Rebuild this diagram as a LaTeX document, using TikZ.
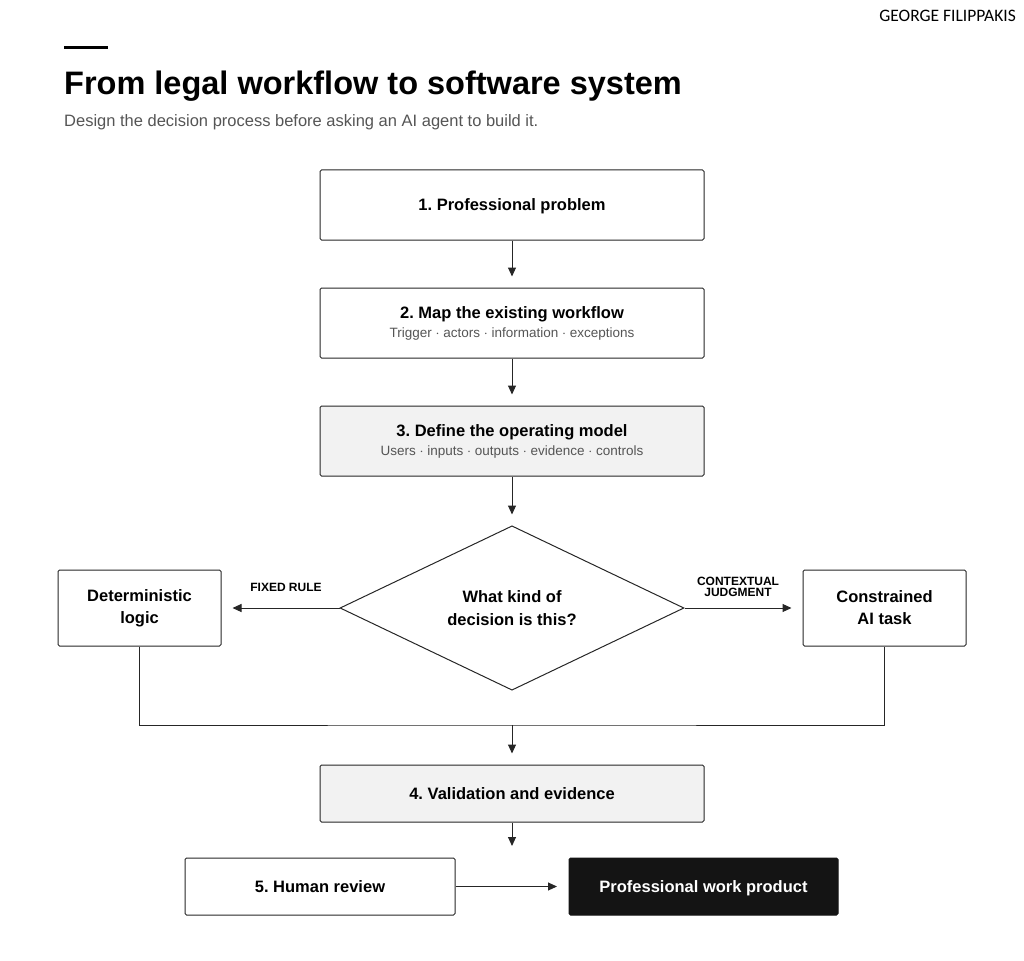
\documentclass[tikz,border=0pt]{standalone}
\usepackage{fontspec}
\setmainfont{Liberation Sans}
\newfontfamily\namefont{Carlito}
\usetikzlibrary{arrows.meta,shapes.geometric,positioning}
\definecolor{boxgray}{HTML}{F2F2F2}
\definecolor{subgray}{HTML}{555555}
\definecolor{darkbox}{HTML}{141414}
\newcommand\subline[1]{{\fontsize{13.5}{16}\mdseries\selectfont\color{subgray}#1}}
\frenchspacing

\tikzset{
  stepbox/.style={draw=black!85,rounded corners=1.5pt,line width=1pt,minimum width=384pt,align=center,font=\fontsize{16.5}{20}\selectfont\bfseries},
  side/.style={draw=black!85,rounded corners=1.5pt,line width=1pt,minimum width=163pt,minimum height=76pt,align=center,font=\fontsize{16.5}{22}\selectfont\bfseries},
  flow/.style={-{Triangle[length=9pt,width=8pt]},line width=1pt,black!85},
  tag/.style={font=\fontsize{12}{13}\selectfont\bfseries,align=center}
}

\begin{document}
\begin{tikzpicture}[x=1pt,y=-1pt]
  \useasboundingbox (0,0) rectangle (1024,960);
  \node[anchor=north east,inner sep=0,font=\namefont\fontsize{17.5}{19}\selectfont] (author) at (1016,10) {GEORGE FILIPPAKIS};
  \draw[line width=3pt] (64,48) -- (108,48);
  \node[anchor=base west,inner sep=0,font=\fontsize{32.5}{38}\selectfont\bfseries] (title) at (64,95) {From legal workflow to software system};
  \node[anchor=base west,inner sep=0,font=\fontsize{16.5}{19}\selectfont,text=subgray] (subtitle) at (64,127) {Design the decision process before asking an AI agent to build it.};

  \node[stepbox,minimum height=70pt,text depth=-2pt] (s1) at (512,205) {1. Professional problem};
  \node[stepbox,minimum height=70pt] (s2) at (512,323) {2. Map the existing workflow\\[-1pt]\subline{Trigger $\cdot$ actors $\cdot$ information $\cdot$ exceptions}};
  \node[stepbox,minimum height=70pt,fill=boxgray] (s3) at (512,441) {3. Define the operating model\\[-1pt]\subline{Users $\cdot$ inputs $\cdot$ outputs $\cdot$ evidence $\cdot$ controls}};
  \node[diamond,draw=black!85,line width=1pt,minimum width=344pt,minimum height=160pt,inner sep=0,align=center,font=\fontsize{16.5}{23}\selectfont\bfseries] (q) at (512,608) {What kind of\\decision is this?};
  \node[side] (det) at (139.5,608) {Deterministic\\logic};
  \node[side] (ai) at (884.5,608) {Constrained\\AI task};
  \node[stepbox,minimum height=57pt,fill=boxgray,text depth=-2pt] (s4) at (512,793.5) {4. Validation and evidence};
  \node[stepbox,minimum width=270pt,minimum height=57pt,text depth=-2pt] (s5) at (320,886.5) {5. Human review};
  \node[stepbox,minimum width=269pt,minimum height=57pt,fill=darkbox,draw=darkbox,text=white,text depth=-2pt] (out) at (703.5,886.5) {Professional work product};

  \coordinate (merge) at (512,725);
  \coordinate (down) at (512,846);
  \coordinate (gap) at (557,886.5);

  \draw[flow,shorten >=11pt] (s1) -- (s2);
  \draw[flow,shorten >=11pt] (s2) -- (s3);
  \draw[flow] (s3.south) -- ++(0,38);
  \draw[flow,shorten >=11pt] (q.west) -- (det.east);
  \draw[flow,shorten >=11pt] (q.east) -- (ai.west);
  \draw[line width=1pt,black!85] (det.south) |- (merge) -| (ai.south);
  \draw[flow,shorten >=11pt] (merge) -- (s4.north);
  \draw[flow] (s4.south) -- (down);
  \draw[flow] (s5.east) -- (gap);

  \node[tag] (fixed) at (286,587) {FIXED RULE};
  \node[tag] (ctx) at (738,587) {CONTEXTUAL\\[-2pt]JUDGMENT};
\end{tikzpicture}
\end{document}
